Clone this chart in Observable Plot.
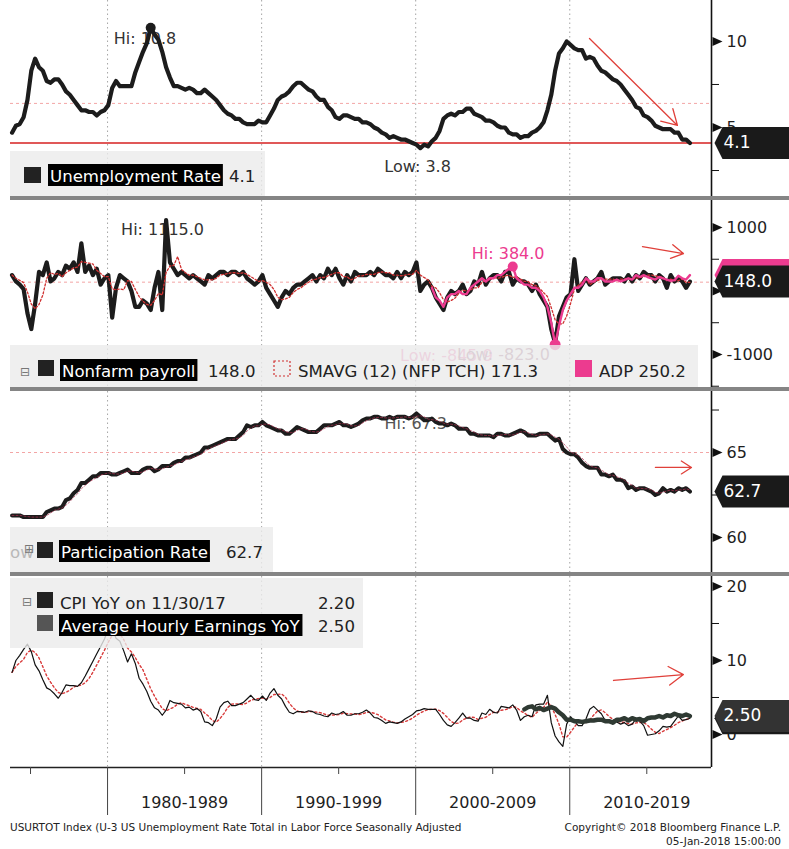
<!DOCTYPE html>
<html><head><meta charset="utf-8">
<script src="https://cdn.jsdelivr.net/npm/d3@7"></script>
<script src="https://cdn.jsdelivr.net/npm/@observablehq/plot@0.6"></script>
<style>
body{margin:0;background:#fff;font-family:"DejaVu Sans",sans-serif;}
#wrap{position:relative;width:789px;height:849px;overflow:hidden;background:#fff;}
.sep{height:4px;background:#858585;margin-left:10px;}
svg{display:block}
.foot{position:absolute;font-size:10.5px;color:#222;white-space:nowrap;font-family:"DejaVu Sans",sans-serif;}
</style></head><body><div id="wrap"></div>
<script>
// ---------------- data ----------------
const START = 1973.8, STEP = 0.25;          // quarterly samples
const ADP_START = 2001.05, AHE_START = 2007.05;
const decades = [1980, 1990, 2000, 2010];
const halfDecades = [1975, 1985, 1995, 2005, 2015];
const decadeLabels = ["", "1980-1989", "1990-1999", "2000-2009", "2010-2019"];

const unemployment = [4.7,
 5.1,5.2,5.6,6.6, 8.3,9.0,8.5,8.3, 7.7,7.6,7.8,7.8, 7.5,7.1,6.9,6.6, 6.3,6.0,6.0,5.9,
 5.9,5.7,5.9,6.0, 6.3,7.3,7.7,7.4, 7.4,7.4,7.4,8.2, 8.8,9.4,9.9,10.8, 10.4,10.1,9.4,8.5,
 7.9,7.4,7.4,7.3, 7.2,7.3,7.2,7.0, 7.0,7.2,7.0,6.8, 6.6,6.3,6.0,5.8, 5.7,5.5,5.5,5.3,
 5.2,5.2,5.2,5.4, 5.3,5.3,5.7,6.1, 6.6,6.8,6.9,7.1, 7.4,7.6,7.6,7.4, 7.2,7.1,6.8,6.6,
 6.6,6.2,6.0,5.6, 5.5,5.7,5.7,5.6, 5.5,5.5,5.3,5.3, 5.2,5.0,4.9,4.7, 4.6,4.4,4.5,4.4,
 4.3,4.3,4.2,4.1, 4.0,3.8,4.0,3.9, 4.2,4.4,4.8,5.5, 5.7,5.8,5.7,5.9, 5.9,6.1,6.1,5.8,
 5.7,5.6,5.4,5.4, 5.3,5.1,5.0,5.0, 4.7,4.6,4.6,4.4, 4.5,4.5,4.7,4.8, 5.0,5.3,6.0,6.9,
 8.3,9.3,9.6,10.0, 9.8,9.6,9.5,9.5, 9.0,9.1,9.0,8.6, 8.3,8.2,8.0,7.8, 7.7,7.5,7.2,6.9,
 6.6,6.2,6.1,5.7, 5.6,5.4,5.1,5.0, 4.9,4.9,4.9,4.7, 4.7,4.3,4.3,4.1];

const payrolls = [250,
 150,100,30,-350, -600,-200,300,250, 450,150,200,300, 250,400,350,450, 300,750,300,400,
 250,350,100,200, 250,-420,50,250, 200,150,0,-250, -250,-150,-200,-300, 50,300,-300,1115,
 450,350,250,300, 250,200,250,200, 150,100,250,200, 250,300,300,250, 300,300,250,300,
 200,150,100,150, 250,50,-50,-150, -250,-100,0,-50, 50,100,100,150, 200,250,150,250,
 200,350,250,350, 200,100,250,150, 300,250,250,250, 300,250,350,300, 250,250,200,300,
 200,300,250,300, 450,0,100,150, 50,-100,-200,-300, -100,0,-50,0, 100,-50,0,150,
 100,300,100,200, 250,250,150,300, 300,100,200,150, 150,100,0,100, -50,-150,-250,-600,
 -823,-400,-250,-100, -50,500,0,100, 200,100,150,200, 300,100,150,200, 200,200,150,250,
 150,250,200,300, 250,250,150,250, 200,50,250,150, 200,150,50,148];

const adp = [50,-100,-150,-250, -100,-50,-50,0, -50,-50,50,100, 150,200,150,200,
 200,250,250,300, 350,384,200,150, 100,100,50,50, 0,-100,-250,-500,
 -845.9,-550,-300,-150, -50,50,50,100, 200,150,150,200, 200,150,150,150,
 180,150,170,200, 180,250,220,250, 220,200,180,220, 200,180,160,170, 240,200,180,250.2];

const participation = [61.3,
 61.3,61.3,61.2,61.2, 61.2,61.2,61.2,61.2, 61.5,61.6,61.7,61.7, 61.8,62.2,62.3,62.6, 62.8,63.2,63.2,63.4,
 63.6,63.6,63.8,63.8, 63.8,63.7,63.7,63.8, 63.9,64.0,63.8,63.8, 63.8,64.0,64.1,64.1, 63.9,64.0,64.2,64.2,
 64.2,64.4,64.5,64.5, 64.7,64.7,64.8,64.9, 65.0,65.3,65.3,65.4, 65.5,65.6,65.7,65.8, 65.8,65.8,66.0,66.2,
 66.6,66.5,66.6,66.6, 66.8,66.6,66.5,66.4, 66.3,66.3,66.1,66.1, 66.3,66.5,66.4,66.3, 66.2,66.2,66.2,66.4,
 66.6,66.6,66.6,66.7, 66.8,66.6,66.6,66.5, 66.6,66.7,66.9,67.0, 67.0,67.1,67.1,67.0, 67.0,67.1,67.0,67.1,
 67.1,67.1,67.0,67.1, 67.3,67.1,66.9,66.9, 67.0,66.8,66.7,66.7, 66.6,66.7,66.6,66.4, 66.4,66.4,66.1,66.1,
 66.0,66.0,66.0,66.0, 65.9,66.1,66.1,66.0, 66.0,66.1,66.2,66.3, 66.2,66.0,66.0,66.0, 66.1,66.1,66.1,65.9,
 65.7,65.8,65.2,65.0, 64.9,64.9,64.7,64.4, 64.2,64.1,64.1,64.1, 63.7,63.7,63.6,63.7, 63.4,63.4,63.3,62.9,
 63.0,62.8,62.9,62.9, 62.8,62.7,62.5,62.6, 62.9,62.7,62.8,62.7, 62.9,62.8,62.9,62.7];

const cpi = [8.4,
 10.0,10.7,11.5,12.2, 11.2,9.4,8.6,7.4, 6.3,6.0,5.5,4.9, 5.7,6.7,6.6,6.6, 6.5,7.0,7.9,8.9,
 9.9,10.9,11.9,12.9, 14.3,14.4,13.0,12.6, 11.3,9.8,10.9,9.6, 7.6,6.8,5.8,4.5, 3.6,3.3,2.6,3.3,
 4.6,4.3,4.2,4.1, 3.6,3.7,3.3,3.5, 3.1,1.7,1.6,1.2, 2.1,3.7,4.3,4.5, 3.9,3.9,4.1,4.3,
 4.8,5.3,4.7,4.6, 5.2,4.6,5.6,6.2, 5.3,4.8,3.8,3.0, 2.8,3.1,3.1,3.0, 3.2,3.1,2.8,2.7,
 2.5,2.4,2.9,2.7, 2.8,3.1,2.6,2.6, 2.8,2.8,3.0,3.3, 2.9,2.3,2.2,1.9, 1.5,1.7,1.6,1.5,
 1.7,2.1,2.4,2.7, 3.2,3.3,3.5,3.4, 3.4,3.4,2.7,1.9, 1.3,1.1,1.6,2.2, 2.9,2.2,2.2,1.9,
 1.8,2.9,2.7,3.4, 3.0,2.9,3.8,3.7, 3.6,4.0,3.3,1.9, 2.4,2.6,2.4,4.0, 4.1,4.1,5.3,1.6,
 -0.2,-1.0,-1.6,1.4, 2.4,1.8,1.2,1.2, 2.1,3.4,3.8,3.3, 2.8,1.9,1.7,1.9, 1.7,1.4,1.6,1.2,
 1.4,2.1,1.8,1.2, -0.1,0.0,0.1,0.5, 1.1,1.0,1.1,1.8, 2.5,1.9,2.0,2.2];

const hourlyEarnings = [3.4,3.7,3.8,3.4, 3.6,3.3,3.5,3.7, 3.5,3.0,2.6,2.0, 2.0,1.8,1.8,1.7,
 1.8,1.9,1.9,2.0, 2.0,1.8,1.8,1.6, 2.0,2.0,2.2,1.9, 2.2,2.0,2.1,1.8,
 2.2,2.3,2.3,2.5, 2.3,2.6,2.5,2.8, 2.6,2.5,2.7,2.5];

const smavgLatest = 171.3;
const refUnemp = [6.4], refPayrolls = [139], refPart = [65];
const arrowsP1 = [{x1: 2011.28, y1: 10.17, x2: 2016.99, y2: 5.12}];
const arrowsP2 = [{x1: 2014.72, y1: 700, x2: 2017.38, y2: 590}];
const arrowsP3 = [{x1: 2015.56, y1: 64.12, x2: 2017.9, y2: 64.12}];
const arrowsP4 = [{x1: 2012.84, y1: 7.3, x2: 2017.38, y2: 8.1}];

// ---------------- helpers ----------------
const X_DOMAIN = [1973.7, 2019.2];
const XR = X_DOMAIN[1];
const series = (vals, start) => vals.map((v, i) => ({x: start + i * STEP, y: v}));
const sUnemp = series(unemployment, START);
const sNfp = series(payrolls, START);
const sAdp = series(adp, ADP_START);
const sPart = series(participation, START);
const sCpi = series(cpi, START);
const sAhe = series(hourlyEarnings, AHE_START);
const last = a => a[a.length - 1];

const triSymbol = {draw(ctx) { ctx.moveTo(1, -4.5); ctx.lineTo(11, 0); ctx.lineTo(1, 4.5); ctx.closePath(); }};
const tagSymbol = {draw(ctx) { ctx.moveTo(3, 0); ctx.lineTo(11, -16); ctx.lineTo(80, -16); ctx.lineTo(80, 16); ctx.lineTo(11, 16); ctx.closePath(); }};
const RED = "#e0403a", PINK = "#ec3b8f", INK = "#1c1c1c";

function grid() {
  return Plot.ruleX(decades, {stroke: "#a5a5a5", strokeDasharray: "1.5,3", strokeWidth: 1});
}
function rightAxis(majors, minors) {
  return [
    Plot.ruleX([XR], {stroke: "#111", strokeWidth: 1.6}),
    Plot.axisY(minors, {anchor: "right", tickSize: 7, tickFormat: () => "", stroke: "#111"}),
    Plot.axisY(majors, {anchor: "right", tickSize: 0, tickPadding: 15, fontSize: 16, fill: "#1e1e1e", tickFormat: d => String(d)}),
    Plot.dot(majors, {x: () => XR, y: d => d, symbol: triSymbol, r: 4, fill: "#111", stroke: null})
  ];
}
function tag(v, fill, txt) {
  const m = [Plot.dot([v], {x: () => XR, y: d => d, symbol: tagSymbol, r: 5, fill, stroke: null})];
  if (txt) m.push(Plot.text([v], {x: () => XR, y: d => d, text: () => txt, dx: 12, textAnchor: "start", fill: "#fff", fontSize: 17}));
  return m;
}
function makePanel(height, yDomain, marks, marginBottom = 0, xAxis = null) {
  const x = {type: "linear", domain: X_DOMAIN};
  if (xAxis === null) x.axis = null;
  return Plot.plot({
    width: 789, height, marginLeft: 10, marginRight: 78, marginTop: 0, marginBottom,
    x, y: {type: "linear", domain: yDomain, axis: null},
    style: {fontFamily: "'DejaVu Sans', sans-serif", fontSize: "16px", color: "#1e1e1e", background: "transparent", overflow: "visible"},
    marks
  });
}
function legend(svg, box, items) {
  const g = d3.select(svg).append("g").attr("font-family", "'DejaVu Sans', sans-serif")
    .attr("font-size", 16.6).attr("text-anchor", "start");
  g.append("rect").attr("x", box[0]).attr("y", box[1]).attr("width", box[2]).attr("height", box[3])
    .attr("fill", "#ebebeb").attr("fill-opacity", 0.8);
  for (const it of items) {
    if (it.sq) {
      g.append("rect").attr("x", it.x).attr("y", it.y).attr("width", it.w).attr("height", it.h)
        .attr("fill", it.fill || "none").attr("stroke", it.stroke || "none")
        .attr("stroke-width", 1.2).attr("stroke-dasharray", it.dash || null);
    } else if (it.hl) {
      const t = g.append("text").attr("x", it.x).attr("y", it.y).attr("fill", "#fff").text(it.text);
      const bb = t.node().getBBox();
      g.insert("rect", () => t.node()).attr("x", bb.x - 2).attr("y", it.y - 18).attr("width", bb.width + 4).attr("height", 22).attr("fill", "#000");
    } else {
      g.append("text").attr("x", it.x).attr("y", it.y).attr("fill", it.fill || "#222")
        .attr("font-size", it.size || 16.6).text(it.text);
    }
  }
}

// ---------------- panels ----------------
const hiU = d3.greatest(sUnemp, d => d.y), loU = d3.least(sUnemp, d => d.y);
const p1 = makePanel(196, [0.99, 12.38], [
  grid(),
  Plot.ruleY(refUnemp, {stroke: "#f3a5a5", strokeDasharray: "3,3"}),
  Plot.ruleY([last(unemployment)], {stroke: "#d62020", strokeWidth: 1.5}),
  Plot.text([hiU], {x: "x", y: "y", text: d => `Hi: ${d.y.toFixed(1)}`, dx: -37, dy: 11, textAnchor: "start", fill: "#333"}),
  Plot.text([loU], {x: "x", y: "y", text: d => `Low: ${d.y.toFixed(1)}`, dx: -36, dy: 19, textAnchor: "start", fill: "#333"}),
  Plot.line(sUnemp, {x: "x", y: "y", stroke: INK, strokeWidth: 4.2, strokeLinejoin: "round"}),
  Plot.dot([hiU], {x: "x", y: "y", r: 5, fill: INK, stroke: null}),
  Plot.arrow(arrowsP1, {x1: "x1", y1: "y1", x2: "x2", y2: "y2", stroke: RED, strokeWidth: 1.3, headLength: 20, headAngle: 60}),
  ...rightAxis([10, 5], [7.5, 2.5]),
  ...tag(last(unemployment), "#1a1a1a", last(unemployment).toFixed(1))
]);

const hiN = d3.greatest(sNfp, d => d.y), loN = d3.least(sNfp, d => d.y);
const hiA = d3.greatest(sAdp, d => d.y), loA = d3.least(sAdp, d => d.y);
const p2 = makePanel(187, [-1520, 1425], [
  grid(),
  Plot.ruleY(refPayrolls, {stroke: "#f3a5a5", strokeDasharray: "3,3"}),
  Plot.text([hiN], {x: "x", y: "y", text: d => `Hi: ${d.y.toFixed(1)}`, dx: -45, dy: 10, textAnchor: "start", fill: "#333"}),
  Plot.line(sNfp, {x: "x", y: "y", stroke: INK, strokeWidth: 4.2, strokeLinejoin: "round"}),
  Plot.line(sNfp, Plot.windowY({k: 4, anchor: "end", reduce: "mean"}, {x: "x", y: "y", stroke: "#d03030", strokeWidth: 1.3, strokeDasharray: "2,2"})),
  Plot.line(sAdp, {x: "x", y: "y", stroke: PINK, strokeWidth: 2.4, strokeLinejoin: "round"}),
  Plot.text([hiA], {x: "x", y: "y", text: d => `Hi: ${d.y.toFixed(1)}`, dx: -41, dy: -13, textAnchor: "start", fill: PINK}),
  Plot.text([loA], {x: "x", y: "y", text: d => `Low: ${d.y.toFixed(1)}`, dx: -155, dy: 11, textAnchor: "start", fill: "#f07ab0"}),
  Plot.text([loN], {x: "x", y: "y", text: d => `Low: ${d.y.toFixed(1)}`, dx: -98, dy: 12, textAnchor: "start", fill: "#a06a85"}),
  Plot.dot([hiA], {x: "x", y: "y", r: 5, fill: PINK, stroke: null}),
  Plot.dot([loA], {x: "x", y: "y", r: 5.5, fill: PINK, stroke: null}),
  Plot.arrow(arrowsP2, {x1: "x1", y1: "y1", x2: "x2", y2: "y2", stroke: RED, strokeWidth: 1.3, headLength: 20, headAngle: 60}),
  ...rightAxis([1000, 0, -1000], [500, -500, -1500]),
  ...tag(last(adp), PINK, null),
  ...tag(last(payrolls), "#1a1a1a", last(payrolls).toFixed(1))
]);

const hiP = d3.greatest(sPart, d => d.y);
const p3 = makePanel(181, [57.94, 68.59], [
  grid(),
  Plot.ruleY(refPart, {stroke: "#f3a5a5", strokeDasharray: "3,3"}),
  Plot.text([hiP], {x: "x", y: "y", text: d => `Hi: ${d.y.toFixed(1)}`, dx: -32, dy: 10, textAnchor: "start", fill: "#555"}),
  Plot.line(sPart, {x: "x", y: "y", stroke: INK, strokeWidth: 4, strokeLinejoin: "round"}),
  Plot.line(sPart, Plot.windowY({k: 3, anchor: "end", reduce: "mean"}, {x: "x", y: "y", stroke: "#b03050", strokeWidth: 1, strokeOpacity: 0.7, strokeDasharray: "2,2"})),
  Plot.arrow(arrowsP3, {x1: "x1", y1: "y1", x2: "x2", y2: "y2", stroke: RED, strokeWidth: 1.3, headLength: 20, headAngle: 65}),
  ...rightAxis([65, 60], [67.5, 62.5]),
  ...tag(last(participation), "#1a1a1a", last(participation).toFixed(1))
]);

const p4 = makePanel(241, [-4.46, 21.35], [
  grid(),
  Plot.line(sCpi, Plot.windowY({k: 4, anchor: "end", reduce: "mean"}, {x: "x", y: "y", stroke: "#d83a3a", strokeWidth: 1.4, strokeDasharray: "2,2.5"})),
  Plot.line(sCpi, {x: "x", y: "y", stroke: "#111", strokeWidth: 1.2, strokeLinejoin: "round"}),
  Plot.line(sAhe, {x: "x", y: "y", stroke: "#2f3a33", strokeWidth: 4.5, strokeLinejoin: "round"}),
  Plot.arrow(arrowsP4, {x1: "x1", y1: "y1", x2: "x2", y2: "y2", stroke: RED, strokeWidth: 1.3, headLength: 20, headAngle: 65}),
  Plot.ruleY([-4.46], {stroke: "#222", strokeWidth: 1.3}),
  Plot.axisX(decades, {anchor: "bottom", tickSize: 48, tickFormat: () => "", stroke: "#444"}),
  Plot.axisX(halfDecades, {anchor: "bottom", tickSize: 7, tickPadding: 22, fontSize: 16, stroke: "#444", fill: "#1e1e1e",
    tickFormat: d => decadeLabels[halfDecades.indexOf(d)]}),
  ...rightAxis([20, 10, 0], [15, 5]),
  ...tag(last(cpi), "#1a1a1a", null),
  ...tag(last(hourlyEarnings), "#333", last(hourlyEarnings).toFixed(2))
], 50, true);

// ---------------- assemble ----------------
const wrap = document.getElementById("wrap");
const sep = () => { const d = document.createElement("div"); d.className = "sep"; return d; };
wrap.append(p1, sep(), p2, sep(), p3, sep(), p4);

legend(p1, [10, 151, 255, 45], [
  {sq: true, x: 24, y: 167, w: 17, h: 16, fill: "#222"},
  {hl: true, x: 50, y: 182, text: "Unemployment Rate"},
  {x: 229, y: 182, text: last(unemployment).toFixed(1)}
]);
legend(p2, [10, 145, 688, 42], [
  {x: 20, y: 176, text: "⊟", size: 12, fill: "#777"},
  {sq: true, x: 38, y: 160, w: 16, h: 16, fill: "#222"},
  {hl: true, x: 62, y: 177, text: "Nonfarm payroll"},
  {x: 208, y: 177, text: last(payrolls).toFixed(1)},
  {sq: true, x: 274, y: 161, w: 16, h: 15, stroke: "#d03030", dash: "2,2"},
  {x: 298, y: 177, text: `SMAVG (12) (NFP TCH) ${smavgLatest.toFixed(1)}`},
  {sq: true, x: 575, y: 160, w: 17, h: 17, fill: PINK},
  {x: 599, y: 177, text: `ADP ${last(adp).toFixed(1)}`}
]);
legend(p3, [10, 136, 263, 45], [
  {x: 10, y: 167, text: "ow", fill: "#b8b8b8"},
  {x: 24, y: 162, text: "⊞", size: 12, fill: "#777"},
  {sq: true, x: 37, y: 151, w: 16, h: 16, fill: "#222"},
  {hl: true, x: 61, y: 167, text: "Participation Rate"},
  {x: 226, y: 167, text: last(participation).toFixed(1)}
]);
legend(p4, [10, 2, 353, 70], [
  {x: 22, y: 30, text: "⊟", size: 12, fill: "#777"},
  {sq: true, x: 37, y: 16, w: 16, h: 16, fill: "#222"},
  {x: 60, y: 33, text: "CPI YoY on 11/30/17"},
  {x: 318, y: 33, text: last(cpi).toFixed(2)},
  {sq: true, x: 37, y: 39, w: 16, h: 16, fill: "#555"},
  {hl: true, x: 61, y: 56, text: "Average Hourly Earnings YoY"},
  {x: 318, y: 56, text: last(hourlyEarnings).toFixed(2)}
]);

const foot = (txt, style) => { const d = document.createElement("div"); d.className = "foot"; d.textContent = txt; Object.assign(d.style, style); wrap.append(d); };
foot("USURTOT Index (U-3 US Unemployment Rate Total in Labor Force Seasonally Adjusted", {left: "10px", top: "821px"});
foot("Copyright© 2018 Bloomberg Finance L.P.", {right: "8px", top: "821px"});
foot("05-Jan-2018 15:00:00", {right: "8px", top: "835px"});
</script></body></html>
